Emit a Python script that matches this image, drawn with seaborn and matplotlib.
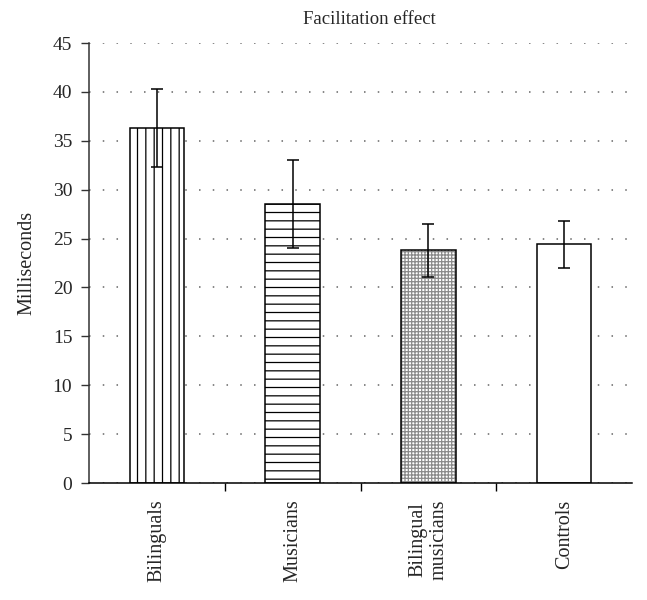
import numpy as np
import pandas as pd
import seaborn as sns
from matplotlib import pyplot as plt

groups = ["Bilinguals", "Musicians", "Bilingual\nmusicians", "Controls"]
means = [36.3, 28.5, 23.8, 24.4]
errors = [3.95, 4.5, 2.7, 2.4]
hatches = ["||", "--", "+++++", ""]
hatch_colors = ["black", "black", "#8a8a8a", "black"]

sns.set_theme(style="white")
plt.rcParams["font.family"] = ["Liberation Serif", "DejaVu Serif"]
plt.rcParams["hatch.linewidth"] = 0.9

df = pd.DataFrame({"Group": groups, "Milliseconds": means})

fig = plt.figure(figsize=(6.47, 6), dpi=100)
ax = fig.add_axes([89 / 647, 117 / 600, 543 / 647, 440 / 600])

# hatched fill, hatch colour comes from edgecolor
sns.barplot(data=df, x="Group", y="Milliseconds", color="white",
            edgecolor="black", linewidth=0, width=0.4, errorbar=None,
            saturation=1, ax=ax)
for patch, h, hc in zip(ax.patches, hatches, hatch_colors):
    patch.set_hatch(h)
    patch.set_facecolor("white")
    patch.set_edgecolor(hc)

# black outlines on top
ax.bar(np.arange(len(groups)), means, width=0.4, fill=False,
       edgecolor="black", linewidth=1.1, zorder=3)

ax.errorbar(np.arange(len(groups)), means, yerr=errors, fmt="none",
            ecolor="black", elinewidth=1.1, capsize=4.5, capthick=1.1, zorder=5)

ax.set_xlim(-0.5, 3.5)
ax.set_ylim(0, 45)
ax.set_yticks(range(0, 46, 5))
ax.yaxis.grid(True, color="#666666", linestyle=(0, (1, 8)), linewidth=1.1)
ax.set_axisbelow(True)

for side in ("top", "right"):
    ax.spines[side].set_visible(False)
ax.spines["left"].set_color("#333333")
ax.spines["bottom"].set_color("black")
ax.spines["left"].set_linewidth(1.1)
ax.spines["bottom"].set_linewidth(1.1)

ax.set_xticks(np.arange(len(groups)))
ax.set_xticklabels(groups, rotation=90, fontsize=14.5, multialignment="center")
ax.set_xticks([0.5, 1.5, 2.5], minor=True)
ax.tick_params(axis="x", which="major", length=0, pad=12)
ax.tick_params(axis="x", which="minor", length=6, width=1.0, color="black",
               direction="out", bottom=True)
ax.tick_params(axis="y", length=6, width=1.0, color="#333333", direction="out",
               left=True, labelsize=14, pad=6)

ax.set_xlabel("")
ax.set_ylabel("Milliseconds", fontsize=14.5, labelpad=12)
ax.set_title("Facilitation effect", fontsize=13.5, pad=14, x=0.517)

fig.savefig("out.png", dpi=100)
